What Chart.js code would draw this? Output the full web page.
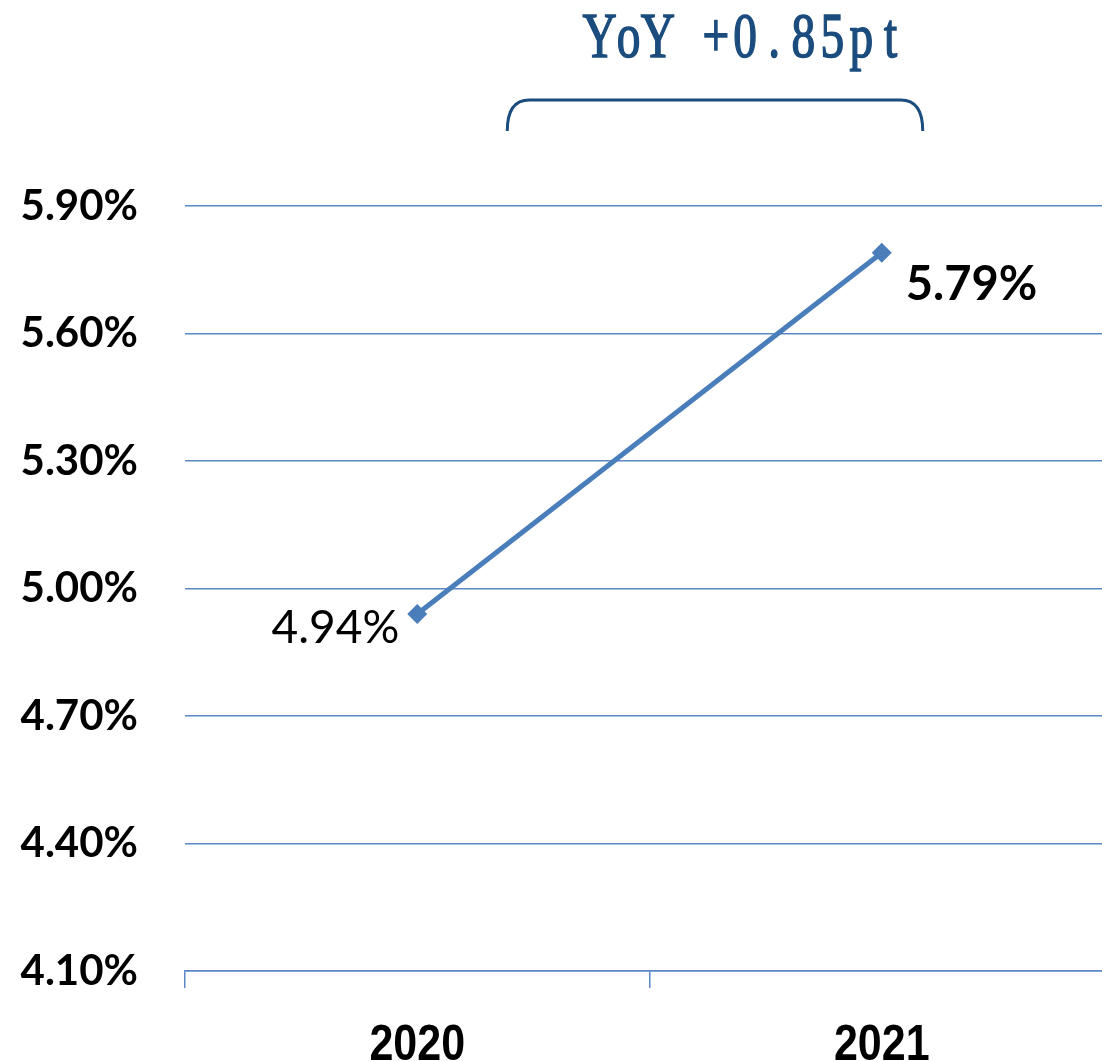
<!DOCTYPE html>
<html>
<head>
<meta charset="utf-8">
<script src="https://cdn.jsdelivr.net/npm/chart.js@4.4.1/dist/chart.umd.min.js"></script>
<style>
  html, body { margin: 0; padding: 0; background: #fff; overflow: hidden; }
  #wrap { width: 1102px; height: 1061px; position: relative; overflow: hidden; }
</style>
</head>
<body>
<div id="wrap"><canvas id="c" width="1114" height="1061"></canvas></div>
<script>
// data
const years = ['2020', '2021'];
const rates = [4.94, 5.79];
const yMin = 4.10, yMax = 5.90, yStep = 0.30;
const yoyText = 'YoY +0.85pt';

const blue = '#4A7EBB';
const gridBlue = '#5B87C5';
const navy = '#1B4C7E';

// value labels, x labels (condensed), and the YoY bracket
const extras = {
  id: 'extras',
  afterDatasetsDraw(chart) {
    const ctx = chart.ctx;
    const pts = chart.getDatasetMeta(0).data;
    const xs = chart.scales.x;
    ctx.save();
    ctx.fillStyle = '#000';
    ctx.textBaseline = 'middle';
    // first point: label on the left, regular
    ctx.font = '46px Lato';
    ctx.textAlign = 'right';
    ctx.fillText(rates[0].toFixed(2) + '%', pts[0].x - 18, pts[0].y + 14);
    // second point: label on the right, bold
    ctx.font = 'bold 47px Lato';
    ctx.textAlign = 'left';
    ctx.fillText(rates[1].toFixed(2) + '%', pts[1].x + 24, pts[1].y + 32);

    // category labels, a bit condensed
    ctx.font = 'bold 50px "Liberation Sans"';
    ctx.textAlign = 'center';
    ctx.textBaseline = 'alphabetic';
    years.forEach((y, i) => {
      ctx.save();
      ctx.translate(xs.getPixelForTick(i), 1060);
      ctx.scale(0.86, 1);
      ctx.fillText(y, 0, 0);
      ctx.restore();
    });

    // bracket
    const x1 = pts[0].x + 90, x2 = pts[1].x + 41, yTop = 100, yBot = 131, r = 22;
    ctx.strokeStyle = navy;
    ctx.lineWidth = 3;
    ctx.beginPath();
    ctx.moveTo(x1, yBot);
    ctx.quadraticCurveTo(x1, yTop, x1 + r, yTop);
    ctx.lineTo(x2 - r, yTop);
    ctx.quadraticCurveTo(x2, yTop, x2, yBot);
    ctx.stroke();

    // YoY text, one char per fixed cell like a mincho half-width face
    ctx.fillStyle = navy;
    ctx.lineWidth = 1.6;
    ctx.font = '64px "Liberation Serif"';
    ctx.textAlign = 'center';
    const cell = 29.1, left = 585;
    [...yoyText].forEach((ch, i) => {
      ctx.save();
      ctx.translate(left + cell * (i + 0.5), 57);
      ctx.scale(0.74, 1);
      ctx.fillText(ch, 0, 0);
      ctx.strokeText(ch, 0, 0);
      ctx.restore();
    });
    ctx.restore();
  }
};

new Chart(document.getElementById('c'), {
  type: 'line',
  data: {
    labels: years,
    datasets: [{
      data: rates,
      borderColor: blue,
      backgroundColor: blue,
      borderWidth: 5,
      pointStyle: 'rectRot',
      pointRadius: 10,
      pointHoverRadius: 10,
      pointBorderWidth: 0,
      tension: 0
    }]
  },
  options: {
    responsive: false,
    animation: false,
    events: [],
    layout: { autoPadding: false, padding: { top: 206, right: 0, left: 0, bottom: 0 } },
    plugins: { legend: { display: false }, tooltip: { enabled: false } },
    scales: {
      x: {
        offset: true,
        grid: {
          offset: true,
          drawOnChartArea: false,
          drawTicks: true,
          tickLength: 17,
          color: gridBlue,
          lineWidth: 1.5
        },
        border: { display: true, color: gridBlue, width: 1.5 },
        ticks: { display: false },
        afterFit(s) { s.height = 90; }
      },
      y: {
        min: yMin,
        max: yMax,
        grid: { color: gridBlue, lineWidth: 1.5, drawTicks: false },
        border: { display: false },
        ticks: {
          stepSize: yStep,
          color: '#000',
          padding: 47,
          font: { family: 'Lato', weight: 'bold', size: 42 },
          callback: v => v.toFixed(2) + '%'
        },
        afterFit(s) { s.width = 185; }
      }
    }
  },
  plugins: [extras]
});
</script>
</body>
</html>
